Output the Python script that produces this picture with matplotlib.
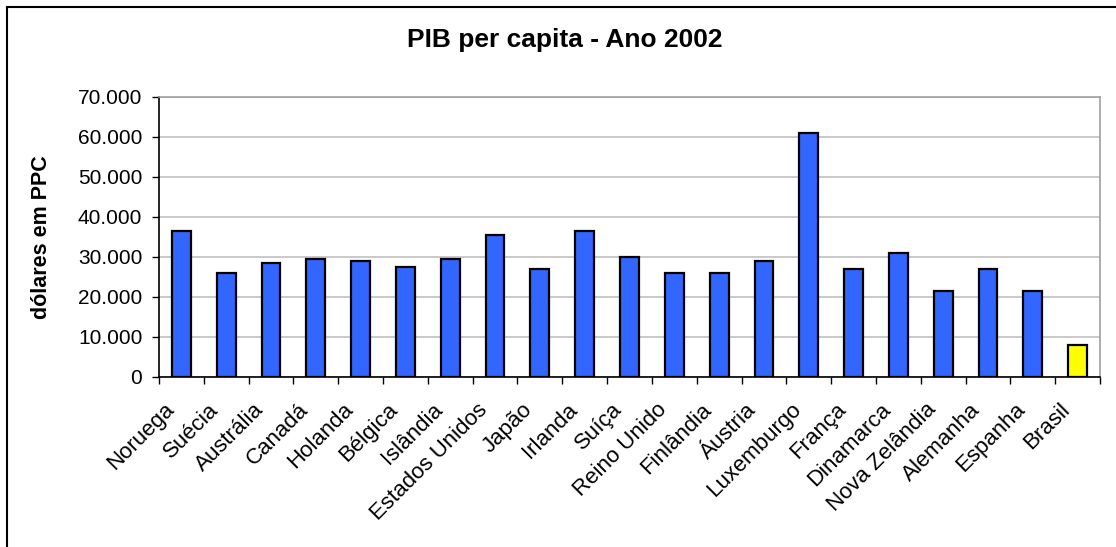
import matplotlib.pyplot as plt
from matplotlib.patches import Rectangle
from matplotlib.ticker import FuncFormatter, MultipleLocator
from matplotlib.transforms import ScaledTranslation
import numpy as np

plt.rcParams['font.family'] = ['Liberation Sans', 'DejaVu Sans']

paises = ['Noruega', 'Suécia', 'Austrália', 'Canadá', 'Holanda', 'Bélgica', 'Islândia',
          'Estados Unidos', 'Japão', 'Irlanda', 'Suíça', 'Reino Unido', 'Finlândia',
          'Áustria', 'Luxemburgo', 'França', 'Dinamarca', 'Nova Zelândia', 'Alemanha',
          'Espanha', 'Brasil']
pib = [36500, 26100, 28600, 29600, 29100, 27500, 29600,
       35400, 27000, 36400, 30100, 26100, 26100,
       29100, 61100, 27000, 31000, 21600, 27000,
       21600, 8000]
destaque = 'Brasil'

W, H = 1116, 547
fig = plt.figure(figsize=(W / 100, H / 100), dpi=100)
ax = fig.add_axes([159 / W, 1 - 377 / H, 941 / W, 280 / H])

cores = ['#FFFF00' if p == destaque else '#3366FF' for p in paises]
x = np.arange(len(paises))
ax.bar(x, pib, width=0.42, color=cores, edgecolor='black', linewidth=1.6, zorder=3)

ax.set_xlim(-0.5, len(paises) - 0.5)
ax.set_ylim(0, 70000)
ax.yaxis.set_major_locator(MultipleLocator(10000))
ax.yaxis.set_major_formatter(FuncFormatter(lambda v, p: f'{int(v):,}'.replace(',', '.')))
ax.grid(axis='y', color='#C0C0C0', linewidth=1.2, zorder=0)

ax.set_xticks(x)
ax.set_xticklabels(paises, rotation=45, ha='right', rotation_mode='anchor')
ax.set_xticks(np.arange(-0.5, len(paises)), minor=True)
ax.tick_params(axis='x', which='major', length=0, pad=16, labelsize=16)
ax.tick_params(axis='x', which='minor', length=5, width=1, direction='out')
ax.tick_params(axis='y', length=5, width=1, direction='out', labelsize=15, pad=7)
desloc = ScaledTranslation(-18 / 100, 0, fig.dpi_scale_trans)
for lbl in ax.get_xticklabels():
    lbl.set_transform(lbl.get_transform() + desloc)

for s in ['top', 'right']:
    ax.spines[s].set_color('#A0A0A0')
    ax.spines[s].set_linewidth(1.2)
for s in ['left', 'bottom']:
    ax.spines[s].set_color('black')
    ax.spines[s].set_linewidth(1.2)

ax.set_ylabel('dólares em PPC', fontsize=15.5, fontweight='bold')
ax.yaxis.set_label_coords((52 - 159) / 941, 0.5)
fig.text(565 / W, 1 - 47 / H, 'PIB per capita - Ano 2002', ha='center', va='baseline',
         fontsize=19, fontweight='bold')

# moldura externa do gráfico
fig.patches.append(Rectangle((7 / W, -0.05), 1.2, 1 - 7 / H + 0.05,
                             transform=fig.transFigure, fill=False,
                             edgecolor='black', linewidth=1.5))

fig.savefig('out.png', dpi=100)
